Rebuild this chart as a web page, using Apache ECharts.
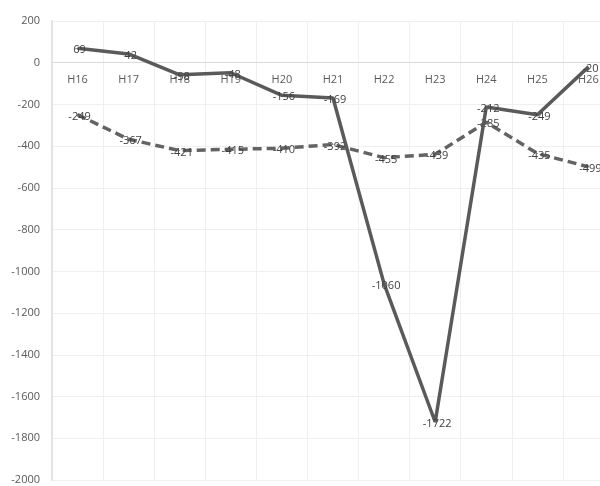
<!DOCTYPE html>
<html><head><meta charset="utf-8">
<script src="https://cdn.jsdelivr.net/npm/echarts@6/dist/echarts.min.js"></script>
<style>html,body{margin:0;padding:0;background:#fff}#c{width:600px;height:486px}</style>
</head><body><div id="c"></div>
<script>
const categories = ['H16','H17','H18','H19','H20','H21','H22','H23','H24','H25','H26'];
const solidValues = [69, 42, -58, -48, -156, -169, -1060, -1722, -212, -249, -20];
const dashedValues = [-249, -367, -421, -415, -410, -392, -455, -439, -285, -435, -499];
const yMin = -2000, yMax = 200, yStep = 200;

const chart = echarts.init(document.getElementById('c'), null, {renderer:'canvas'});
const gridTop = 21, gridBottom = 6;
const plotH = 486 - gridTop - gridBottom;
const zeroOffset = -plotH * (0 - yMin) / (yMax - yMin);
const labelStyle = {show:true, position:'inside', color:'#404040', fontSize:11, fontFamily:'Open Sans', offset:[2,2]};
chart.setOption({
  animation:false,
  grid:{left:52, right:-14, top:gridTop, bottom:gridBottom, containLabel:false, outerBoundsMode:'none'},
  xAxis:[{
    type:'category', data:categories, boundaryGap:true, position:'bottom', offset:zeroOffset,
    axisLine:{onZero:false, lineStyle:{color:'#d9d9d9', width:1}},
    axisTick:{show:false},
    axisLabel:{color:'#595959', fontSize:11, fontFamily:'Open Sans', margin:12},
    splitLine:{show:false}
  },{
    type:'category', data:categories, boundaryGap:true, position:'bottom',
    axisLine:{show:false}, axisTick:{show:false}, axisLabel:{show:false},
    splitLine:{show:true, lineStyle:{color:'#efefef', width:1}}
  }],
  yAxis:{
    type:'value', min:yMin, max:yMax, interval:yStep,
    axisLine:{show:true, lineStyle:{color:'#e3e3e3', width:2}},
    axisTick:{show:false},
    axisLabel:{color:'#595959', fontSize:11, fontFamily:'Open Sans', margin:12, formatter: v => String(v)},
    splitLine:{show:true, lineStyle:{color:'#efefef', width:1}}
  },
  series:[
    {type:'line', data:solidValues, symbol:'circle', symbolSize:1,
     itemStyle:{color:'#5a5a5a'}, lineStyle:{color:'#5a5a5a', width:3.5}, label:labelStyle, z:3},
    {type:'line', data:dashedValues, symbol:'circle', symbolSize:1,
     itemStyle:{color:'#636363'}, lineStyle:{color:'#636363', width:3.5, type:[9,5]}, label:labelStyle, z:2}
  ]
});
</script></body></html>
